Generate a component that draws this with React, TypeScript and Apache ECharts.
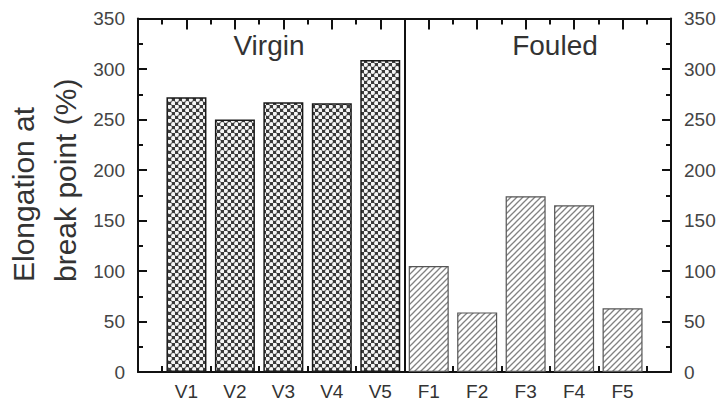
import React, { useEffect, useRef } from "react";
import * as echarts from "echarts";

// Sample groups and their elongation values (%)
const virginLabels = ["V1", "V2", "V3", "V4", "V5"];
const virginValues = [272, 250, 267, 266, 309];
const fouledLabels = ["F1", "F2", "F3", "F4", "F5"];
const fouledValues = [105, 59, 174, 165, 63];
const groupTitles = ["Virgin", "Fouled"];
const yTicks = { min: 0, max: 350, step: 50 };

const FONT = "Liberation Sans, Arial, sans-serif";
const INK = "#111";

// Plot frame and tick lengths
const FRAME = { left: 138, right: 52, top: 18.5, bottom: 37 };
const Y_MAJOR = 9;
const Y_MINOR = 5;
const X_TOP_MAJOR = 11;
const X_MINOR = 6;

function makeDotTile(): HTMLCanvasElement {
  const c = document.createElement("canvas");
  c.width = 7;
  c.height = 7;
  const ctx = c.getContext("2d")!;
  ctx.fillStyle = "#3a3a3a";
  ctx.fillRect(0, 0, 7, 7);
  ctx.fillStyle = "#f6f6f6";
  const pts = [
    [1.75, 1.75],
    [5.25, 5.25],
  ];
  for (const [x, y] of pts) {
    ctx.beginPath();
    ctx.arc(x, y, 2.15, 0, Math.PI * 2);
    ctx.fill();
  }
  return c;
}

function makeHatchTile(): HTMLCanvasElement {
  const c = document.createElement("canvas");
  c.width = 6;
  c.height = 6;
  const ctx = c.getContext("2d")!;
  ctx.fillStyle = "#ffffff";
  ctx.fillRect(0, 0, 6, 6);
  ctx.strokeStyle = "#828282";
  ctx.lineWidth = 1.3;
  const segs = [
    [-1, 7, 7, -1],
    [-1, 1, 1, -1],
    [5, 7, 7, 5],
  ];
  for (const [x1, y1, x2, y2] of segs) {
    ctx.beginPath();
    ctx.moveTo(x1, y1);
    ctx.lineTo(x2, y2);
    ctx.stroke();
  }
  return c;
}

export default function App() {
  const ref = useRef<HTMLDivElement>(null);

  useEffect(() => {
    if (!ref.current) return;
    const chart = echarts.init(ref.current, undefined, { renderer: "svg" });

    const allLabels = [...virginLabels, ...fouledLabels];
    const slotCount = allLabels.length + 1;
    const divider = virginLabels.length + 0.5;

    const dotTile = makeDotTile();
    const hatchTile = makeHatchTile();

    const tickStyle = { color: INK, width: 2 };
    const frameLine = () => ({ show: true, onZero: false, lineStyle: { color: INK, width: 2 } });
    const bare = () => ({
      axisLine: { show: false, onZero: false },
      axisLabel: { show: false },
      splitLine: { show: false },
      axisTick: { show: false },
    });

    const yScale = { type: "value", min: yTicks.min, max: yTicks.max, interval: yTicks.step };
    const xScale = { type: "value", min: 0, max: slotCount, interval: 1 };

    // Tick-only grids are inset from the frame by the tick length, so their
    // outward ticks end on the frame and read as inward ticks.
    const grids = [
      { ...FRAME },
      { ...FRAME, left: FRAME.left + Y_MAJOR, right: FRAME.right + Y_MAJOR },
      { ...FRAME, left: FRAME.left + Y_MINOR, right: FRAME.right + Y_MINOR },
      { ...FRAME, top: FRAME.top + X_TOP_MAJOR, bottom: FRAME.bottom + X_MINOR },
      { ...FRAME, top: FRAME.top + X_MINOR },
    ];

    const yMainLabel = { color: "#444", fontSize: 19, fontFamily: FONT, margin: 13 };

    chart.setOption({
      animation: false,
      backgroundColor: "#fff",
      grid: grids,
      xAxis: [
        {
          ...xScale,
          ...bare(),
          gridIndex: 0,
          position: "bottom",
          axisLine: frameLine(),
          axisLabel: {
            color: "#333",
            fontSize: 19,
            fontFamily: FONT,
            margin: 10,
            showMinLabel: true,
            showMaxLabel: true,
            formatter: (v: number) => allLabels[Math.round(v) - 1] ?? "",
          },
        },
        { ...xScale, ...bare(), gridIndex: 0, position: "top", axisLine: frameLine() },
        { ...xScale, ...bare(), gridIndex: 1, position: "bottom" },
        { ...xScale, ...bare(), gridIndex: 2, position: "bottom" },
        {
          ...xScale,
          ...bare(),
          gridIndex: 3,
          position: "bottom",
          minorTick: { show: true, splitNumber: 2, length: X_MINOR, lineStyle: tickStyle },
        },
        {
          ...xScale,
          ...bare(),
          gridIndex: 3,
          position: "top",
          axisTick: { show: true, length: X_TOP_MAJOR, lineStyle: tickStyle },
        },
        {
          ...xScale,
          ...bare(),
          gridIndex: 4,
          position: "top",
          minorTick: { show: true, splitNumber: 2, length: X_MINOR, lineStyle: tickStyle },
        },
      ],
      yAxis: [
        { ...yScale, ...bare(), gridIndex: 0, position: "left", axisLine: frameLine(), axisLabel: { ...yMainLabel } },
        { ...yScale, ...bare(), gridIndex: 0, position: "right", axisLine: frameLine(), axisLabel: { ...yMainLabel } },
        { ...yScale, ...bare(), gridIndex: 1, position: "left", axisTick: { show: true, length: Y_MAJOR, lineStyle: tickStyle } },
        { ...yScale, ...bare(), gridIndex: 1, position: "right", axisTick: { show: true, length: Y_MAJOR, lineStyle: tickStyle } },
        {
          ...yScale,
          ...bare(),
          gridIndex: 2,
          position: "left",
          minorTick: { show: true, splitNumber: 2, length: Y_MINOR, lineStyle: tickStyle },
        },
        {
          ...yScale,
          ...bare(),
          gridIndex: 2,
          position: "right",
          minorTick: { show: true, splitNumber: 2, length: Y_MINOR, lineStyle: tickStyle },
        },
        { ...yScale, ...bare(), gridIndex: 3, position: "left" },
        { ...yScale, ...bare(), gridIndex: 4, position: "left" },
      ],
      series: [
        {
          name: groupTitles[0],
          type: "bar",
          xAxisIndex: 0,
          yAxisIndex: 0,
          barWidth: 40,
          data: virginValues.map((v, i) => [i + 1, v]),
          itemStyle: {
            color: { image: dotTile, repeat: "repeat", imageWidth: 7, imageHeight: 7 } as any,
            borderColor: "#1a1a1a",
            borderWidth: 1.5,
          },
          markLine: {
            silent: true,
            symbol: "none",
            label: { show: false },
            lineStyle: { color: INK, width: 2, type: "solid" },
            data: [{ xAxis: divider }],
          },
        },
        {
          name: groupTitles[1],
          type: "bar",
          xAxisIndex: 0,
          yAxisIndex: 0,
          barWidth: 40,
          barGap: "-100%",
          data: fouledValues.map((v, i) => [i + virginLabels.length + 1, v]),
          itemStyle: {
            color: { image: hatchTile, repeat: "repeat", imageWidth: 6, imageHeight: 6 } as any,
            borderColor: "#555",
            borderWidth: 1.2,
          },
        },
      ],
      graphic: [
        {
          type: "text",
          x: 269,
          y: 45,
          style: {
            text: groupTitles[0],
            fontSize: 28,
            fontFamily: FONT,
            fill: "#333",
            align: "center",
            verticalAlign: "middle",
          },
        },
        {
          type: "text",
          x: 555,
          y: 45,
          style: {
            text: groupTitles[1],
            fontSize: 28,
            fontFamily: FONT,
            fill: "#333",
            align: "center",
            verticalAlign: "middle",
          },
        },
        {
          type: "text",
          x: 44,
          y: 282,
          rotation: Math.PI / 2,
          style: {
            text: "Elongation at\nbreak point (%)",
            fontSize: 30,
            lineHeight: 42,
            fontFamily: FONT,
            fill: "#333",
            align: "left",
            verticalAlign: "middle",
          },
        },
      ],
    });

    return () => chart.dispose();
  }, []);

  return (
    <div
      ref={ref}
      style={{ position: "fixed", left: 0, top: 0, width: 723, height: 409 }}
    />
  );
}
